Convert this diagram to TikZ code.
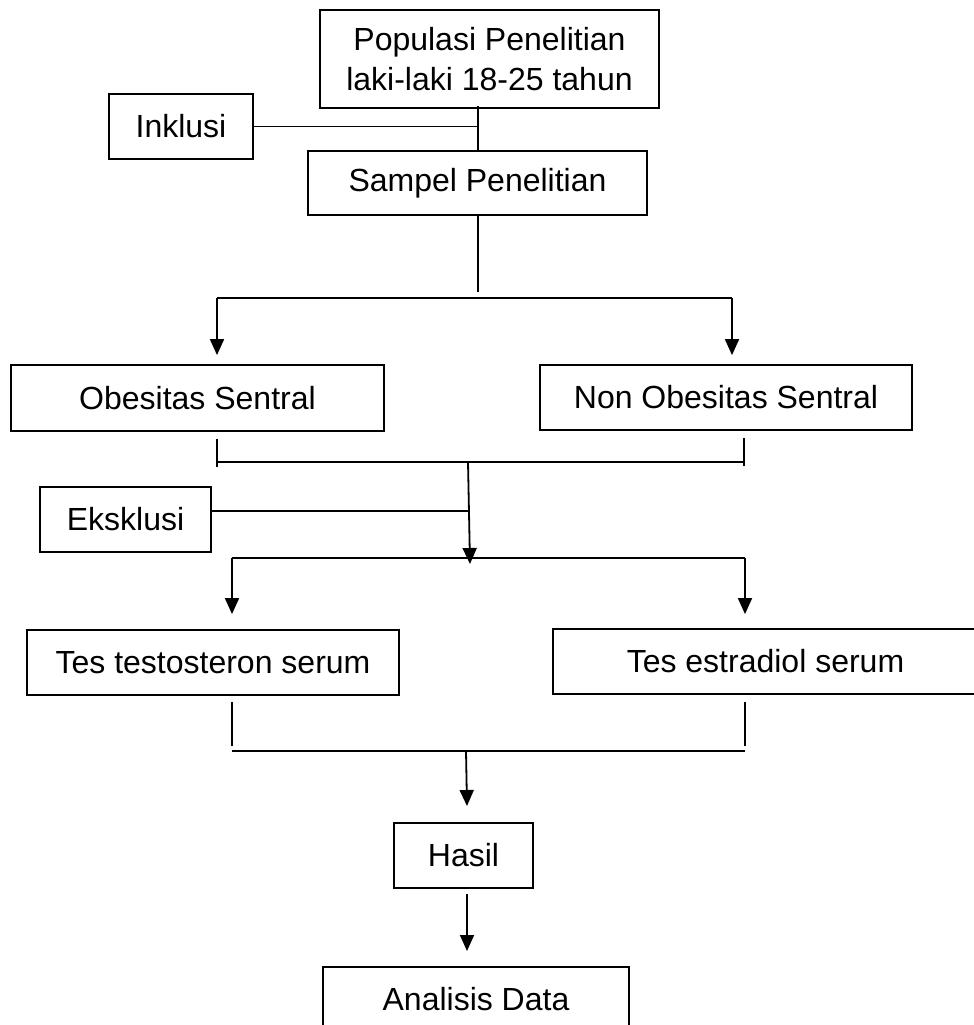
\documentclass[tikz,border=0pt]{standalone}
\usepackage{fontspec}
\setmainfont{Liberation Sans}
\usetikzlibrary{arrows.meta}
\begin{document}
\begin{tikzpicture}[x=1pt,y=-1pt,
  box/.style={draw, line width=1.8pt, inner sep=0pt, align=center,
    font=\fontsize{32}{40}\selectfont},
  link/.style={line width=1.8pt},
  arr/.style={link, -{Triangle[width=14pt,length=16pt]}}]
\useasboundingbox (0,0) rectangle (974,1025);

% boxes
\node[box, minimum width=339pt, minimum height=98pt] (pop) at (489.5,59) {Populasi Penelitian\\laki-laki 18-25 tahun};
\node[box, minimum width=144pt, minimum height=65pt] (incl) at (181,126.5) {Inklusi};
\node[box, minimum width=339pt, minimum height=64pt] (sample) at (477.5,183) {Sampel Penelitian};
\node[box, minimum width=373pt, minimum height=66pt] (obes) at (197.5,398) {Obesitas Sentral};
\node[box, minimum width=372pt, minimum height=65pt] (nonobes) at (726,397.5) {Non Obesitas Sentral};
\node[box, minimum width=171pt, minimum height=65pt] (excl) at (125.5,519.5) {Eksklusi};
\node[box, minimum width=372pt, minimum height=65pt] (testo) at (213,662.5) {Tes testosteron serum};
\node[box, minimum width=425pt, minimum height=65pt] (estra) at (765.5,661.5) {Tes estradiol serum};
\node[box, minimum width=139pt, minimum height=65pt] (hasil) at (463.5,855.5) {Hasil};
\node[box, minimum width=306pt, minimum height=65pt] (anal) at (476,999.5) {Analisis Data};

% junction points
\coordinate (popout) at (478,106);
\coordinate (split1) at (478,292);
\coordinate (hl1) at (217,298);
\coordinate (hr1) at (732,298);
\coordinate (bl1t) at (217,439);
\coordinate (bl1b) at (217,467);
\coordinate (br1t) at (744,438);
\coordinate (br1b) at (744,466);
\coordinate (bl1) at (217,462);
\coordinate (br1) at (744,462);
\coordinate (merge1) at (468,462);
\coordinate (exclj) at (469,511);
\coordinate (tip1) at (470,564);
\coordinate (hl2) at (232,558);
\coordinate (hr2) at (745,558);
\coordinate (bl2t) at (232,702);
\coordinate (bl2b) at (232,746);
\coordinate (br2t) at (745,702);
\coordinate (br2b) at (745,746);
\coordinate (bl2) at (232,751);
\coordinate (br2) at (745,751);
\coordinate (merge2) at (466,751);
\coordinate (hasilin) at (467,806);
\coordinate (hasilout) at (467,894);
\coordinate (analin) at (467,951);

% population to sample, with inclusion
\draw[link] (popout) -- (sample.north -| popout);
\draw[link] (incl.east) -- (incl.east -| popout);
\draw[link] (sample.south -| split1) -- (split1);

% split into the two groups
\draw[link] (hl1) -- (hr1);
\draw[arr, shorten >=9pt] (hl1) -- (hl1 |- obes.north);
\draw[arr, shorten >=9pt] (hr1) -- (hr1 |- nonobes.north);

% groups joined, with exclusion
\draw[link] (bl1t) -- (bl1b);
\draw[link] (br1t) -- (br1b);
\draw[link] (bl1) -- (br1);
\draw[link] (exclj -| excl.east) -- (exclj);
\draw[arr] (merge1) -- (tip1);

% split into the two tests
\draw[link] (hl2) -- (hr2);
\draw[arr, shorten >=15pt] (hl2) -- (hl2 |- testo.north);
\draw[arr, shorten >=14pt] (hr2) -- (hr2 |- estra.north);

% tests joined to results
\draw[link] (bl2t) -- (bl2b);
\draw[link] (br2t) -- (br2b);
\draw[link] (bl2) -- (br2);
\draw[arr] (merge2) -- (hasilin);
\draw[arr] (hasilout) -- (analin);
\end{tikzpicture}
\end{document}
